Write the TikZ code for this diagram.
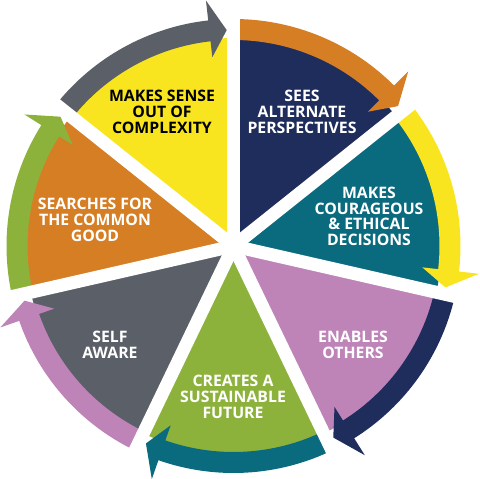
\documentclass[tikz,border=0pt]{standalone}
\usepackage{fontspec}
\setmainfont{Open Sans}
\usetikzlibrary{calc}
\definecolor{cNavy}{HTML}{1F2D5C}
\definecolor{cTeal}{HTML}{0B6B7E}
\definecolor{cPink}{HTML}{BE84B8}
\definecolor{cGreen}{HTML}{8DB23C}
\definecolor{cGray}{HTML}{5B5F67}
\definecolor{cOrange}{HTML}{D67E24}
\definecolor{cYellow}{HTML}{F9E51F}
\tikzset{
  lbl/.style={font=\bfseries\fontsize{15.8}{15.7}\selectfont, align=center, text=white, inner sep=0pt},
  gapline/.style={white, line width=13pt}
}
\begin{document}
\begin{tikzpicture}
\useasboundingbox[fill=white] (0pt,0pt) rectangle (480pt,-479pt);
\coordinate (C) at (233.5pt,-246pt);
% wedges
\foreach \k/\wc in {0/cNavy,1/cTeal,2/cPink,3/cGreen,4/cGray,5/cOrange,6/cYellow}{
  \pgfmathsetmacro{\s}{90-51.428571*\k}
  \pgfmathsetmacro{\e}{\s-51.428571}
  \fill[\wc] (C) -- ++(\s:208pt) arc[start angle=\s, end angle=\e, radius=208pt] -- cycle;
}
% arrow bands
\foreach \k/\bc in {0/cOrange,1/cYellow,2/cNavy,3/cTeal,4/cPink,5/cGreen,6/cGray}{
  \pgfmathsetmacro{\s}{90-51.428571*\k}
  \pgfmathsetmacro{\e}{\s-51.428571}
  \pgfmathsetmacro{\b}{\e+6.4}
  \pgfmathsetmacro{\t}{\e+1.8}
  \fill[\bc] ($(C)+(\s:227pt)$) arc[start angle=\s, end angle=\b, radius=227pt]
    -- ($(C)+(\b:247pt)$) -- ($(C)+(\t:216pt)$) -- ($(C)+(\b:190pt)$)
    -- ($(C)+(\b:206pt)$) arc[start angle=\b, end angle=\s, radius=206pt] -- cycle;
}
% white gaps
\foreach \k in {0,...,6}{
  \pgfmathsetmacro{\s}{90-51.428571*\k}
  \draw[gapline] (C) -- ($(C)+(\s:232pt)$);
}
\node[lbl, text=black] (n7) at (162pt,-112pt) {MAKES SENSE\\OUT OF\\COMPLEXITY};
\node[lbl] (n1) at (302pt,-112pt) {SEES\\ALTERNATE\\PERSPECTIVES};
\node[lbl] (n2) at (369pt,-216.5pt) {MAKES\\COURAGEOUS\\\& ETHICAL\\DECISIONS};
\node[lbl] (n3) at (353pt,-345pt) {ENABLES\\OTHERS};
\node[lbl] (n4) at (233pt,-397pt) {CREATES A\\SUSTAINABLE\\FUTURE};
\node[lbl] (n5) at (110pt,-345pt) {SELF\\AWARE};
\node[lbl] (n6) at (95pt,-220pt) {SEARCHES FOR\\THE COMMON\\GOOD};
\end{tikzpicture}
\end{document}
